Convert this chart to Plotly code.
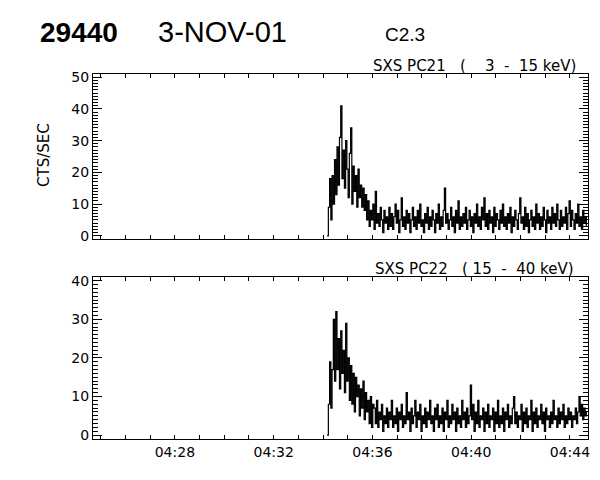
import pandas as pd
import plotly.graph_objects as go
from plotly.subplots import make_subplots

# ---- data (counts/sec, 3 s bins starting 04:34:10) ----
start_time = "2001-11-03 04:34:10"
step = "3s"

pc21_counts = [
    0, 9, 18, 5, 19, 10, 24, 13, 28, 16,
    31, 41, 18, 27, 15, 30, 21, 12, 26, 34,
    10, 22, 14, 19, 9, 21, 12, 16, 9, 15,
    8, 13, 5, 11, 3, 8, 5, 10, 2, 14,
    4, 7, 3, 9, 5, 1, 8, 4, 6, 2,
    9, 3, 7, 2, 6, 10, 4, 8, 1, 5,
    12, 3, 6, 2, 8, 4, 7, 1, 5, 9,
    3, 6, 2, 8, 4, 10, 3, 5, 1, 7,
    4, 9, 2, 6, 3, 8, 5, 1, 7, 4,
    10, 2, 6, 3, 8, 15, 4, 7, 2, 5,
    9, 3, 6, 1, 8, 4, 11, 2, 6, 3,
    7, 4, 9, 2, 5, 8, 3, 6, 1, 7,
    4, 10, 3, 6, 2, 9, 5, 12, 3, 7,
    2, 8, 4, 6, 1, 9, 3, 7, 5, 2,
    8, 4, 10, 3, 6, 2, 7, 4, 9, 1,
    6, 3, 8, 5, 2, 7, 12, 4, 6, 2,
    9, 3, 7, 1, 5, 8, 3, 6, 2, 10,
    4, 7, 2, 6, 3, 9, 5, 1, 8, 4,
    6, 2, 9, 4, 7, 3, 10, 5, 2, 8,
    3, 6, 4, 9, 2, 7, 11, 3, 8, 5,
    2, 7, 4, 10, 3, 6, 2, 8, 4, 6,
    3,
]

pc22_counts = [
    0, 8, 19, 7, 17, 30, 14, 32, 17, 25,
    12, 27, 16, 22, 11, 29, 14, 20, 9, 18,
    8, 16, 6, 15, 10, 13, 5, 12, 7, 14,
    4, 11, 6, 9, 3, 10, 2, 8,
    7, 3, 9, 2, 6, 4, 8, 1, 5, 3, 7, 2,
    6, 4, 9, 2, 5, 3, 7, 1, 6, 4,
    8, 2, 5, 3, 11, 4, 6, 1, 7, 3,
    5, 9, 2, 6, 4, 8, 1, 5, 3, 7,
    2, 6, 4, 9, 3, 5, 1, 7, 4, 8,
    2, 5, 3, 7, 1, 6, 4, 9, 2, 5,
    3, 8, 4, 6, 1, 7, 3, 5, 2, 9,
    4, 6, 2, 7, 3, 5, 13, 4, 8, 1,
    6, 3, 9, 2, 5, 4, 7, 1, 6, 3,
    8, 2, 5, 4, 7, 1, 6, 3, 9, 2,
    5, 3, 7, 1, 6, 4, 8, 2, 5, 3,
    7, 10, 3, 6, 2, 5, 4, 8, 1, 6,
    3, 7, 2, 5, 4, 9, 1, 6, 3, 7,
    2, 5, 4, 8, 3, 6, 1, 7, 4, 5,
    2, 6, 3, 9, 4, 5, 2, 7, 3, 6,
    4, 8, 2, 5, 3, 7, 4, 6, 2, 5,
    4, 7, 3, 6, 10, 5, 8, 4, 7, 5,
    6,
]

x_range = ["2001-11-03 04:24:41", "2001-11-03 04:44:44"]
top_yrange = [-1, 51]
bot_yrange = [-1, 41]
NB = "\u00a0"
top_label = ("SXS PC21" + NB * 3 + "(" + NB * 4 + "3" + NB * 2 + "-" + NB * 2
             + "15" + NB + "keV)")
bot_label = ("SXS PC22" + NB * 3 + "(" + NB + "15" + NB * 2 + "-" + NB * 2
             + "40" + NB + "keV)")
y_title = "CTS/SEC"

t21 = pd.date_range(start_time, periods=len(pc21_counts), freq=step)
t22 = pd.date_range(start_time, periods=len(pc22_counts), freq=step)

FONT = "DejaVu Sans"
HFONT = "Liberation Sans"

fig = make_subplots(rows=2, cols=1, shared_xaxes=False, vertical_spacing=0.0)

fig.add_trace(go.Scatter(x=t21, y=pc21_counts, mode="lines",
                         line=dict(color="black", width=1.2, shape="hv"),
                         showlegend=False), row=1, col=1)
fig.add_trace(go.Scatter(x=t22, y=pc22_counts, mode="lines",
                         line=dict(color="black", width=1.2, shape="hv"),
                         showlegend=False), row=2, col=1)

xcommon = dict(type="date", range=x_range, showgrid=False, zeroline=False,
               automargin=False,
               showline=True, linecolor="black", linewidth=1, mirror="ticks",
               ticks="inside", ticklen=4, tickcolor="black",
               tick0="2001-11-03 04:28:00", dtick=240000, tickformat="%H:%M",
               minor=dict(dtick=60000, ticks="inside", ticklen=4, tickcolor="black"),
               tickfont=dict(family=FONT, size=14, color="black"))
ycommon = dict(showgrid=False, zeroline=False, showline=True, linecolor="black",
               automargin=False,
               linewidth=1, mirror="ticks", ticks="inside", ticklen=9,
               tickcolor="black", dtick=10, tick0=0,
               minor=dict(dtick=1, ticks="inside", ticklen=5, tickcolor="black"),
               tickfont=dict(family=FONT, size=14, color="black"))

fig.update_xaxes(**xcommon, showticklabels=False, row=1, col=1)
fig.update_xaxes(**xcommon, showticklabels=True, row=2, col=1)
fig.update_yaxes(**ycommon, range=top_yrange, row=1, col=1)
fig.update_yaxes(**ycommon, range=bot_yrange, row=2, col=1)

# page has an 8 px body margin; figure is sized to fit the 600x480 window
OFF = 8
W, H = 600 - OFF, 480 - OFF
L, R, T, B = 93 - OFF, W + OFF - 588, 74 - OFF, H + OFF - 439
fig.update_layout(
    width=W, height=H,
    margin=dict(l=L, r=R, t=T, b=B, autoexpand=False),
    paper_bgcolor="white", plot_bgcolor="white",
    xaxis=dict(domain=[0, 1]),
    yaxis=dict(domain=[0.548, 1.0]),
    yaxis2=dict(domain=[0.0, 0.444]),
)

plot_h = H - T - B
plot_w = W - L - R
def py(pix):
    return (H - B - (pix - OFF)) / plot_h
def px(pix):
    return ((pix - OFF) - L) / plot_w

fig.add_annotation(text=top_label, xref="paper", yref="paper", x=px(578), y=1.0,
                   xanchor="right", yanchor="bottom", showarrow=False, yshift=-3,
                   font=dict(family=FONT, size=15, color="black"))
fig.add_annotation(text=bot_label, xref="paper", yref="paper", x=px(576), y=0.444,
                   xanchor="right", yanchor="bottom", showarrow=False, yshift=-3,
                   font=dict(family=FONT, size=15, color="black"))
fig.add_annotation(text=y_title, xref="paper", yref="paper", x=px(44), y=py(155),
                   xanchor="center", yanchor="middle", showarrow=False, textangle=-90,
                   font=dict(family=FONT, size=15, color="black"))
fig.add_annotation(text="<b>29440</b>", xref="paper", yref="paper", x=px(38), y=py(32),
                   xanchor="left", yanchor="middle", showarrow=False,
                   font=dict(family=HFONT, size=28, color="black"))
fig.add_annotation(text="3-NOV-01", xref="paper", yref="paper", x=px(156), y=py(32),
                   xanchor="left", yanchor="middle", showarrow=False,
                   font=dict(family=HFONT, size=29, color="black"))
fig.add_annotation(text="C2.3", xref="paper", yref="paper", x=px(383), y=py(34),
                   xanchor="left", yanchor="middle", showarrow=False,
                   font=dict(family=HFONT, size=19, color="black"))

fig.write_html("out.html")
